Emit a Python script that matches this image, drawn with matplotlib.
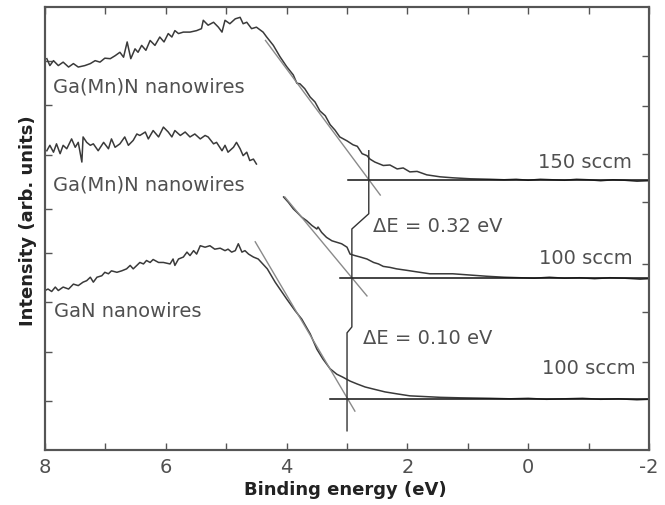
import matplotlib
matplotlib.use("Agg")
import matplotlib.pyplot as plt

# top spectrum: Ga(Mn)N nanowires, 150 sccm
top_e = [7.97, 7.92, 7.86, 7.78, 7.70, 7.61, 7.53, 7.45, 7.34, 7.25, 7.17, 7.09, 7.01, 6.92,
         6.84, 6.76, 6.70, 6.64, 6.58, 6.51, 6.46, 6.40, 6.33, 6.26, 6.18, 6.10, 6.03, 5.96,
         5.90, 5.85, 5.79, 5.71, 5.60, 5.49, 5.41, 5.38, 5.30, 5.21, 5.13, 5.07, 5.02, 4.94,
         4.85, 4.77, 4.72, 4.66, 4.58, 4.50, 4.39, 4.33, 4.22, 4.11, 4.00, 3.89, 3.83, 3.78,
         3.70, 3.61, 3.53, 3.45, 3.36, 3.28, 3.20, 3.12, 3.00, 2.90, 2.83, 2.75, 2.67, 2.62,
         2.54, 2.40, 2.29, 2.17, 2.07, 1.96, 1.84, 1.68, 1.46, 1.25, 0.96, 0.63, 0.40, 0.20,
         0.00, -0.20, -0.40, -0.60, -0.80, -1.00, -1.20, -1.40, -1.60, -1.80, -2.00]
top_i = [7.95, 7.81, 7.91, 7.81, 7.88, 7.78, 7.85, 7.78, 7.81, 7.85, 7.91, 7.88, 7.96, 7.95,
         8.01, 8.08, 7.98, 8.29, 7.95, 8.15, 8.08, 8.22, 8.12, 8.32, 8.22, 8.39, 8.29, 8.46,
         8.39, 8.52, 8.46, 8.49, 8.49, 8.52, 8.56, 8.73, 8.63, 8.69, 8.59, 8.49, 8.73, 8.66,
         8.76, 8.79, 8.66, 8.69, 8.56, 8.59, 8.49, 8.39, 8.22, 7.99, 7.79, 7.62, 7.45, 7.44,
         7.34, 7.17, 7.07, 6.89, 6.79, 6.61, 6.50, 6.36, 6.28, 6.20, 6.17, 6.02, 5.98, 5.91,
         5.85, 5.78, 5.79, 5.71, 5.73, 5.65, 5.66, 5.59, 5.55, 5.53, 5.51, 5.50, 5.49, 5.50,
         5.48, 5.50, 5.49, 5.48, 5.50, 5.49, 5.47, 5.49, 5.48, 5.46, 5.47]

# middle spectrum: Ga(Mn)N nanowires, 100 sccm (two pieces, broken at the label)
mid1_e = [7.97, 7.92, 7.86, 7.81, 7.75, 7.70, 7.64, 7.56, 7.50, 7.45, 7.39, 7.37, 7.31, 7.25,
          7.20, 7.12, 7.03, 6.95, 6.90, 6.84, 6.76, 6.68, 6.62, 6.54, 6.48, 6.43, 6.34, 6.29,
          6.21, 6.12, 6.04, 5.96, 5.90, 5.85, 5.76, 5.68, 5.60, 5.52, 5.43, 5.35, 5.30, 5.21,
          5.16, 5.07, 5.02, 4.97, 4.88, 4.83, 4.77, 4.72, 4.66, 4.61, 4.55, 4.50]
mid1_i = [6.08, 6.19, 6.05, 6.22, 6.02, 6.19, 6.12, 6.32, 6.15, 6.25, 5.85, 6.36, 6.25, 6.19,
          6.22, 6.08, 6.25, 6.12, 6.32, 6.15, 6.22, 6.36, 6.19, 6.29, 6.42, 6.39, 6.46, 6.32,
          6.49, 6.36, 6.56, 6.46, 6.36, 6.49, 6.39, 6.46, 6.36, 6.42, 6.32, 6.39, 6.36, 6.22,
          6.25, 6.08, 6.19, 6.05, 6.15, 6.25, 6.12, 5.98, 6.05, 5.88, 5.91, 5.81]
mid2_e = [4.05, 3.97, 3.89, 3.83, 3.75, 3.67, 3.58, 3.50, 3.48, 3.42, 3.34, 3.25, 3.17, 3.09,
          3.00, 2.95, 2.87, 2.78, 2.67, 2.56, 2.48, 2.40, 2.29, 2.18, 2.01, 1.85, 1.63, 1.25,
          0.69, 0.40, 0.14, -0.10, -0.35, -0.60, -0.85, -1.10, -1.35, -1.60, -1.85, -2.00]
mid2_i = [5.14, 5.03, 4.90, 4.83, 4.73, 4.66, 4.56, 4.49, 4.53, 4.42, 4.32, 4.25, 4.22, 4.19,
          4.12, 3.98, 3.95, 3.92, 3.88, 3.81, 3.78, 3.73, 3.71, 3.68, 3.65, 3.62, 3.58, 3.58,
          3.53, 3.51, 3.50, 3.49, 3.51, 3.49, 3.50, 3.48, 3.50, 3.49, 3.47, 3.48]

# bottom spectrum: GaN nanowires, 100 sccm
bot_e = [8.00, 7.95, 7.89, 7.83, 7.78, 7.70, 7.61, 7.53, 7.45, 7.37, 7.31, 7.25, 7.20, 7.14,
         7.06, 7.01, 6.95, 6.90, 6.81, 6.73, 6.65, 6.59, 6.54, 6.48, 6.43, 6.37, 6.32, 6.26,
         6.21, 6.12, 6.04, 5.93, 5.88, 5.85, 5.79, 5.71, 5.65, 5.60, 5.54, 5.49, 5.43, 5.35,
         5.27, 5.19, 5.10, 5.02, 4.97, 4.91, 4.85, 4.80, 4.74, 4.69, 4.63, 4.55, 4.47, 4.32,
         4.19, 4.00, 3.86, 3.75, 3.61, 3.50, 3.40, 3.28, 3.17, 3.07, 2.95, 2.83, 2.70, 2.57,
         2.37, 2.17, 1.96, 1.79, 1.46, 1.13, 0.63, 0.30, 0.00, -0.30, -0.60, -0.90, -1.20,
         -1.50, -1.80, -2.00]
bot_i = [3.24, 3.27, 3.22, 3.31, 3.24, 3.31, 3.27, 3.37, 3.34, 3.41, 3.44, 3.51, 3.41, 3.51,
         3.54, 3.61, 3.58, 3.64, 3.61, 3.64, 3.68, 3.75, 3.68, 3.75, 3.81, 3.78, 3.85, 3.81,
         3.87, 3.81, 3.81, 3.78, 3.88, 3.75, 3.88, 3.92, 4.02, 3.95, 4.05, 3.98, 4.15, 4.12,
         4.15, 4.08, 4.10, 4.05, 4.08, 4.02, 4.05, 4.19, 4.02, 4.05, 3.98, 3.92, 3.88, 3.68,
         3.41, 3.07, 2.83, 2.66, 2.36, 2.05, 1.85, 1.65, 1.54, 1.48, 1.40, 1.34, 1.28, 1.24,
         1.18, 1.14, 1.10, 1.09, 1.07, 1.06, 1.05, 1.04, 1.05, 1.03, 1.04, 1.05, 1.03,
         1.04, 1.02, 1.03]

# edge extrapolations (tangent lines) and baselines
tan_top_e, tan_top_i = [4.35, 2.45], [8.32, 5.18]
tan_mid_e, tan_mid_i = [4.03, 2.67], [5.14, 3.13]
tan_bot_e, tan_bot_i = [4.52, 2.87], [4.23, 0.79]
base_top_e, base_top_i = [2.98, -2.0], [5.49, 5.49]
base_mid_e, base_mid_i = [3.12, -2.0], [3.50, 3.50]
base_bot_e, base_bot_i = [3.28, -2.0], [1.04, 1.04]

# connector through the three onsets
conn_e = [2.64, 2.64, 2.92, 2.92, 3.00, 3.00]
conn_i = [6.08, 4.80, 4.49, 2.50, 2.38, 0.39]

left_ticks = [1, 2, 3, 4, 4.9, 6, 7, 7.9]
right_ticks = [1.79, 2.80, 3.78, 5.04, 6.02, 6.99, 8.01]

plt.rcParams["font.family"] = ["DejaVu Sans"]
plt.rcParams["axes.unicode_minus"] = False

fig = plt.figure(figsize=(6.65, 5.06), dpi=100)
ax = fig.add_axes([0.0677, 0.1087, 0.9083, 0.8755])

curve_c = "#3a3a3a"
txt_c = "#505050"

ax.plot(top_e, top_i, color=curve_c, lw=1.1)
ax.plot(mid1_e, mid1_i, color=curve_c, lw=1.1)
ax.plot(mid2_e, mid2_i, color=curve_c, lw=1.1)
ax.plot(bot_e, bot_i, color=curve_c, lw=1.1)

for te, ti in [(tan_top_e, tan_top_i), (tan_mid_e, tan_mid_i), (tan_bot_e, tan_bot_i)]:
    ax.plot(te, ti, color="#8a8a8a", lw=1.0)
for be, bi in [(base_top_e, base_top_i), (base_mid_e, base_mid_i), (base_bot_e, base_bot_i)]:
    ax.plot(be, bi, color="#111111", lw=1.1)
ax.plot(conn_e, conn_i, color="#333333", lw=1.0)

fs = 14
ax.text(7.87, 7.40, "Ga(Mn)N nanowires", fontsize=fs, color=txt_c, va="center")
ax.text(7.87, 5.41, "Ga(Mn)N nanowires", fontsize=fs, color=txt_c, va="center")
ax.text(7.85, 2.83, "GaN nanowires", fontsize=fs, color=txt_c, va="center")
ax.text(-1.72, 5.87, "150 sccm", fontsize=fs, color=txt_c, va="center", ha="right")
ax.text(-1.72, 3.92, "100 sccm", fontsize=fs, color=txt_c, va="center", ha="right")
ax.text(-1.77, 1.67, "100 sccm", fontsize=fs, color=txt_c, va="center", ha="right")
ax.text(2.57, 4.57, "\u0394E = 0.32 eV", fontsize=fs, color=txt_c, va="center")
ax.text(2.74, 2.28, "\u0394E = 0.10 eV", fontsize=fs, color=txt_c, va="center")

ax.set_xlim(8, -2)
ax.set_ylim(0, 9)
ax.set_xticks([8, 6, 4, 2, 0, -2])
ax.set_xticks([7, 5, 3, 1, -1], minor=True)
ax.set_yticks(left_ticks)
ax.set_yticklabels([])
ax.tick_params(axis="x", which="both", direction="in", top=True, length=5,
               width=1, color="#555555", labelsize=14, labelcolor=txt_c, pad=5)
ax.tick_params(axis="y", which="both", direction="in", length=5, width=1, color="#555555")

ax2 = ax.twinx()
ax2.set_ylim(0, 9)
ax2.set_yticks(right_ticks)
ax2.set_yticklabels([])
ax2.tick_params(axis="y", direction="in", length=5, width=1, color="#555555")

for a in (ax, ax2):
    for s in a.spines.values():
        s.set_color("#555555")
        s.set_linewidth(1.5)

ax.set_xlabel("Binding energy (eV)", fontsize=13, fontweight="bold", color="#222222")
ax.set_ylabel("Intensity (arb. units)", fontsize=13, fontweight="bold", color="#222222")
ax.xaxis.set_label_coords(0.497, -0.068)
ax.yaxis.set_label_coords(-0.014, 0.52)

fig.savefig("out.png", dpi=100)
